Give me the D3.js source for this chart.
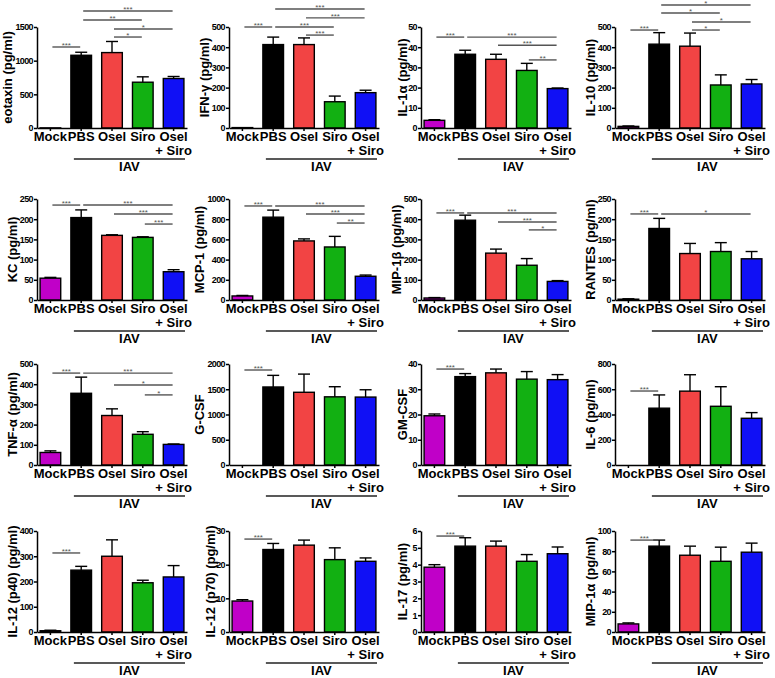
<!DOCTYPE html>
<html>
<head>
<meta charset="utf-8">
<script src="https://cdn.jsdelivr.net/npm/d3@7"></script>
<style>
  body { margin: 0; background: #fff; }
  svg text { font-family: 'Liberation Sans', Arial, sans-serif; font-weight: bold; }
</style>
</head>
<body>
<svg id="chart" width="775" height="678"></svg>
<script>
const groups = ['Mock', 'PBS', 'Osel', 'Siro', 'Osel + Siro'];
const groupColors = ['#c000c8', '#000000', '#f24444', '#12b012', '#1010f5'];

const yLabels = ['eotaxin (pg/ml)', 'IFN-γ (pg/ml)', 'IL-1α (pg/ml)', 'IL-10 (pg/ml)',
  'KC (pg/ml)', 'MCP-1 (pg/ml)', 'MIP-1β (pg/ml)', 'RANTES (pg/ml)',
  'TNF-α (pg/ml)', 'G-CSF', 'GM-CSF', 'IL-6 (pg/ml)',
  'IL-12 (p40) (pg/ml)', 'IL-12 (p70) (pg/ml)', 'IL-17 (pg/ml)', 'MIP-1α (pg/ml)'];

const yMax = [1500, 500, 50, 500, 250, 1000, 500, 250, 500, 2000, 40, 800, 400, 30, 6, 100];
const yStep = [500, 100, 10, 100, 50, 200, 100, 50, 100, 500, 10, 200, 100, 10, 1, 20];

// mean per group (Mock, PBS, Osel, Siro, Osel + Siro)
const means = [
  [2, 1080, 1120, 680, 735],
  [2, 413, 413, 130, 175],
  [3.8, 36.5, 34, 28.5, 19.5],
  [8, 415, 405, 213, 218],
  [54, 204, 160, 155, 70],
  [40, 820, 585, 525, 235],
  [10, 395, 232, 172, 92],
  [2, 177, 115, 120, 102],
  [62, 355, 245, 152, 102],
  [0, 1545, 1440, 1350, 1345],
  [19.5, 35, 36.5, 34, 33.8],
  [0, 450, 585, 465, 370],
  [5, 245, 300, 195, 218],
  [9.2, 24.5, 25.8, 21.5, 21],
  [3.85, 5.1, 5.1, 4.2, 4.65],
  [8, 85, 76, 70, 79]
];

// error (upper whisker)
const errors = [
  [0, 45, 165, 80, 30],
  [0, 37, 33, 28, 12],
  [0.3, 2, 2.5, 3.5, 0.3],
  [2, 57, 65, 50, 22],
  [2, 19, 1.5, 1.5, 5],
  [5, 70, 20, 105, 12],
  [2, 25, 20, 33, 4],
  [1, 25, 25, 22, 18],
  [8, 80, 33, 13, 2],
  [0, 230, 360, 200, 145],
  [0.7, 1.2, 1.5, 3, 2],
  [0, 105, 130, 155, 45],
  [2, 15, 65, 10, 45],
  [0.4, 1.8, 1.5, 3.5, 1],
  [0.15, 0.5, 0.3, 0.4, 0.4],
  [1, 6, 9, 14, 9]
];

// significance brackets: [from group, to group, stars, height in axis units]
const brackets = [
  [[1, 4, '***', 1738], [1, 3, '**', 1604], [2, 4, '*', 1470], [2, 3, '*', 1351], [0, 1, '***', 1203]],
  [[1, 4, '***', 589], [2, 4, '***', 545], [1, 3, '***', 500], [2, 3, '***', 460], [0, 1, '***', 500]],
  [[0, 1, '***', 45], [1, 4, '***', 45], [2, 4, '***', 41], [3, 4, '**', 33.7]],
  [[1, 4, '*', 609], [1, 3, '*', 569], [2, 4, '*', 525], [2, 3, '*', 485], [0, 1, '***', 485]],
  [[0, 1, '***', 235], [1, 4, '***', 235], [2, 4, '***', 213], [3, 4, '***', 188]],
  [[0, 1, '***', 931], [1, 4, '***', 931], [2, 4, '***', 851], [3, 4, '**', 762]],
  [[0, 1, '***', 431], [1, 4, '***', 431], [2, 4, '***', 386], [3, 4, '*', 347]],
  [[0, 1, '***', 213], [1, 4, '*', 213]],
  [[0, 1, '***', 455], [1, 4, '***', 455], [2, 4, '*', 396], [3, 4, '*', 347]],
  [[0, 1, '***', 1881]],
  [[0, 1, '***', 38]],
  [[0, 1, '***', 586]],
  [[0, 1, '***', 313]],
  [[0, 1, '***', 27.6]],
  [[0, 1, '***', 5.7]],
  [[0, 1, '***', 91]]
];

const colX = [37, 229, 421, 615];
const rowY = [27, 199, 364, 531];
const plotW = 150;
const plotH = 101;

const svg = d3.select('#chart');

function drawPanel(i) {
  const left = colX[i % 4];
  const top = rowY[Math.floor(i / 4)];
  const base = top + plotH;
  const g = svg.append('g');

  const y = d3.scaleLinear().domain([0, yMax[i]]).range([base, top]);
  const x = d3.scaleBand().domain(groups).range([left, left + plotW])
    .paddingInner(0.33).paddingOuter(0.1);
  const bw = x.bandwidth();
  const cx = (k) => x(groups[k]) + bw / 2;

  const rows = groups.map((name, k) => ({name, k, mean: means[i][k], err: errors[i][k]}));

  // bars
  g.selectAll('rect.bar').data(rows).enter()
    .append('rect')
    .attr('class', 'bar')
    .attr('x', (d) => x(d.name))
    .attr('width', bw)
    .attr('y', (d) => y(d.mean))
    .attr('height', (d) => y(0) - y(d.mean))
    .attr('fill', (d) => groupColors[d.k])
    .attr('stroke', '#000')
    .attr('stroke-width', 1.4)
    .attr('display', (d) => d.mean > 0 ? null : 'none');

  // error bars
  const eb = g.selectAll('g.err').data(rows.filter((d) => d.err > 0)).enter().append('g');
  eb.append('line')
    .attr('x1', (d) => cx(d.k)).attr('x2', (d) => cx(d.k))
    .attr('y1', (d) => y(d.mean)).attr('y2', (d) => y(d.mean + d.err))
    .attr('stroke', '#000').attr('stroke-width', 1.4);
  eb.append('line')
    .attr('x1', (d) => cx(d.k) - 6).attr('x2', (d) => cx(d.k) + 6)
    .attr('y1', (d) => y(d.mean + d.err)).attr('y2', (d) => y(d.mean + d.err))
    .attr('stroke', '#000').attr('stroke-width', 1.4);

  // axes
  const ticks = d3.range(0, yMax[i] + yStep[i] / 2, yStep[i]);
  const ya = g.append('g').attr('transform', `translate(${left},0)`)
    .call(d3.axisLeft(y).tickValues(ticks).tickFormat(d3.format('d'))
      .tickSize(3).tickSizeOuter(0).tickPadding(1));
  const xa = g.append('g').attr('transform', `translate(0,${base})`)
    .call(d3.axisBottom(x).tickSize(3).tickSizeOuter(0).tickFormat(''));
  [ya, xa].forEach((a) => {
    a.selectAll('path, line').attr('stroke', '#000').attr('stroke-width', 1.5);
  });
  ya.selectAll('text').attr('font-size', 9).attr('fill', '#000')
    .style('letter-spacing', '-0.6px')
    .style('font-family', "'Liberation Sans', Arial, sans-serif").style('font-weight', 'bold');

  // y label
  const digits = Math.max(2, String(yMax[i]).length);
  g.append('text')
    .attr('transform', `translate(${left - 8 - digits * 5.5},${top + plotH / 2}) rotate(-90)`)
    .attr('text-anchor', 'middle')
    .attr('dy', '0.35em')
    .attr('font-size', 13)
    .text(yLabels[i]);

  // category labels
  rows.forEach((d) => {
    const parts = d.name === 'Osel + Siro' ? ['Osel', '+ Siro'] : [d.name];
    parts.forEach((p, j) => {
      g.append('text')
        .attr('x', cx(d.k))
        .attr('y', base + 13 + j * 14)
        .attr('text-anchor', 'middle')
        .attr('font-size', 13)
        .text(p);
    });
  });

  // IAV group line
  const iavX1 = x('PBS') + 3;
  const iavX2 = left + plotW - 2;
  g.append('line')
    .attr('x1', iavX1).attr('x2', iavX2)
    .attr('y1', base + 31).attr('y2', base + 31)
    .attr('stroke', '#222').attr('stroke-width', 1.5);
  g.append('text')
    .attr('x', (iavX1 + iavX2) / 2)
    .attr('y', base + 43)
    .attr('text-anchor', 'middle')
    .attr('font-size', 13)
    .text('IAV');

  // significance brackets
  brackets[i].forEach(([a, b, stars, h]) => {
    const x1 = cx(a) + 2;
    const x2 = cx(b) - 1;
    g.append('line')
      .attr('x1', x1).attr('x2', x2)
      .attr('y1', y(h)).attr('y2', y(h))
      .attr('stroke', '#555').attr('stroke-width', 1.4);
    g.append('text')
      .attr('x', (x1 + x2) / 2)
      .attr('y', y(h) + 1)
      .attr('text-anchor', 'middle')
      .attr('font-size', 8)
      .style('font-weight', 'normal')
      .attr('fill', '#555')
      .text(stars);
  });
}

d3.range(16).forEach(drawPanel);
</script>
</body>
</html>
